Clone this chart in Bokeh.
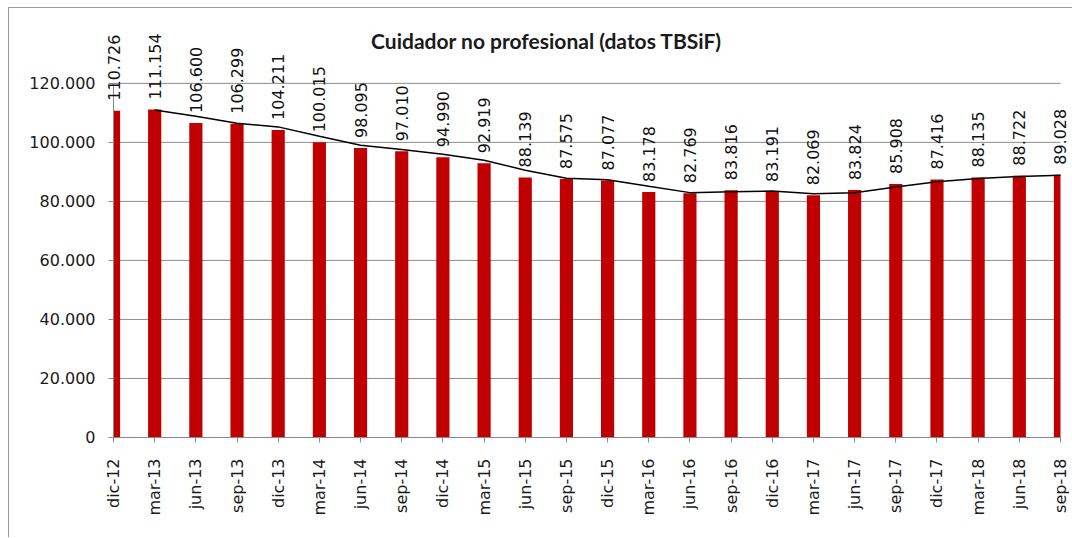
import math
from bokeh.plotting import figure
from bokeh.models import Range1d, FixedTicker, Label, ColumnDataSource, LinearAxis
from bokeh.embed import file_html
from bokeh.resources import INLINE

categories = ["dic-12", "mar-13", "jun-13", "sep-13", "dic-13", "mar-14", "jun-14", "sep-14",
              "dic-14", "mar-15", "jun-15", "sep-15", "dic-15", "mar-16", "jun-16", "sep-16",
              "dic-16", "mar-17", "jun-17", "sep-17", "dic-17", "mar-18", "jun-18", "sep-18"]
values = [110726, 111154, 106600, 106299, 104211, 100015, 98095, 97010,
          94990, 92919, 88139, 87575, 87077, 83178, 82769, 83816,
          83191, 82069, 83824, 85908, 87416, 88135, 88722, 89028]
y_ticks = [0, 20000, 40000, 60000, 80000, 100000, 120000]
title_text = "Cuidador no profesional (datos TBSiF)"


def fmt(v):
    return "{:,}".format(v).replace(",", ".")


xs = list(range(len(categories)))
x_first, x_last = xs[0], xs[-1]
y_min, y_max = y_ticks[0], y_ticks[-1]
labels = [fmt(v) for v in values]
# 2-period moving average trend line
ma_x = xs[1:]
ma_y = [(values[i - 1] + values[i]) / 2 for i in range(1, len(values))]

half_w = 0.16
src = ColumnDataSource(dict(
    left=[max(x - half_w, x_first) for x in xs],
    right=[min(x + half_w, x_last) for x in xs],
    top=values,
    bottom=[y_min] * len(values),
))

p = figure(width=1064, height=530, output_backend="svg", toolbar_location=None,
           x_range=Range1d(-2.526, 23.316), y_range=Range1d(-34240, 143000),
           x_axis_location=None, y_axis_location=None,
           min_border_left=0, min_border_right=0, min_border_top=7, min_border_bottom=0)
p.styles = {"border-left": "1px solid #9a9a9a", "border-top": "1px solid #9a9a9a",
            "margin-left": "8px", "margin-top": "7px"}
p.outline_line_color = None
p.background_fill_color = "white"
p.border_fill_color = "white"

# gridlines limited to the category span
p.segment(x0=[x_first] * len(y_ticks), x1=[x_last] * len(y_ticks), y0=y_ticks, y1=y_ticks,
          line_color="#8c8c8c", line_width=1)

p.quad(left="left", right="right", top="top", bottom="bottom", source=src,
       fill_color="#C00000", line_color=None)
p.line(ma_x, ma_y, line_color="black", line_width=1.5)

# data labels
for xi, vi, li in zip(xs, values, labels):
    p.add_layout(Label(x=xi, y=vi, text=li, angle=math.pi / 2,
                       text_align="left", text_baseline="middle", y_offset=10,
                       text_font="DejaVu Sans", text_font_size="16px",
                       text_color="#111111"))

p.add_layout(Label(x=10.52, y=134500, text=title_text, text_align="center",
                   text_baseline="middle", text_font="Lato", text_font_size="21px",
                   text_font_style="bold", text_color="#1a1a1a"))

# x axis fixed at zero
xax = LinearAxis(fixed_location=y_min)
xax.ticker = FixedTicker(ticks=xs)
xax.bounds = (x_first, x_last)
xax.major_label_overrides = {i: c for i, c in zip(xs, categories)}
xax.major_label_orientation = math.pi / 2
xax.major_label_text_font = "DejaVu Sans"
xax.major_label_text_font_size = "16px"
xax.major_label_text_color = "#1a1a1a"
xax.major_label_standoff = 16
xax.axis_line_color = "#8a8a8a"
xax.major_tick_line_color = "#8a8a8a"
xax.major_tick_out = 5
xax.major_tick_in = 0
xax.minor_tick_line_color = None
p.add_layout(xax, "below")

# y axis fixed at the first category
yax = LinearAxis(fixed_location=x_first)
yax.ticker = FixedTicker(ticks=y_ticks)
yax.bounds = (y_min, y_max)
yax.major_label_overrides = {t: fmt(t) for t in y_ticks}
yax.major_label_text_font = "DejaVu Sans"
yax.major_label_text_font_size = "16px"
yax.major_label_text_color = "#1a1a1a"
yax.major_label_standoff = 13
yax.axis_line_color = "#8a8a8a"
yax.major_tick_line_color = "#8a8a8a"
yax.major_tick_out = 5
yax.major_tick_in = 0
yax.minor_tick_line_color = None
p.add_layout(yax, "left")

p.xgrid.grid_line_color = None
p.ygrid.grid_line_color = None

open("out.html", "w").write(file_html(p, INLINE))
